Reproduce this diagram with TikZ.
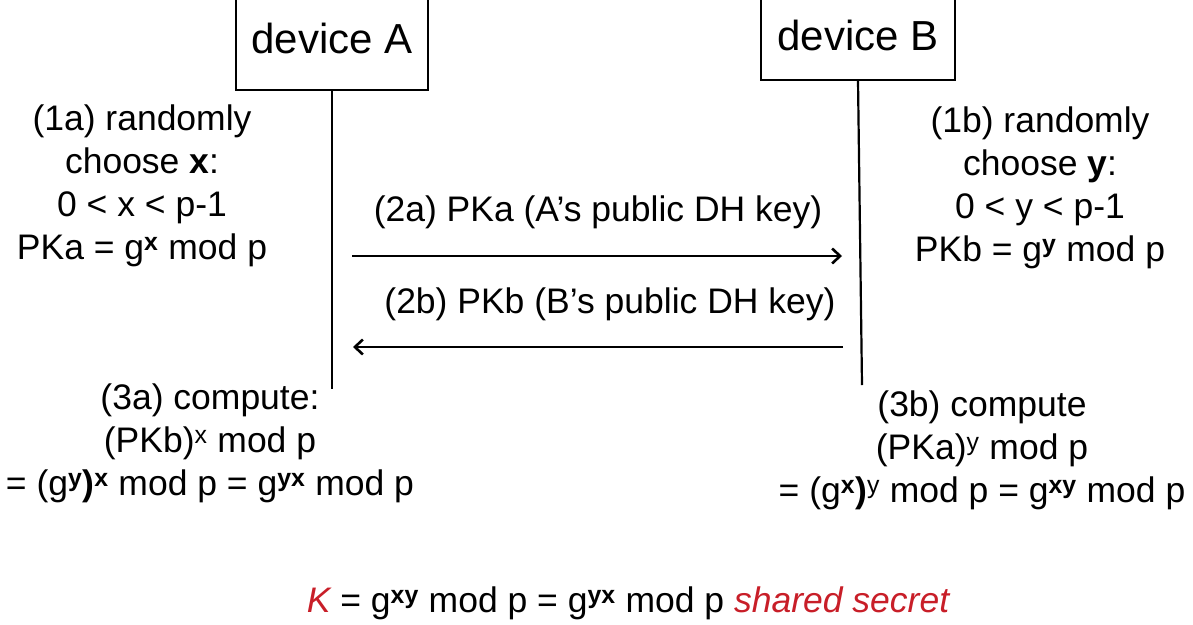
\documentclass[tikz,border=0pt]{standalone}
\usepackage{fontspec}
\setmainfont{Liberation Sans}
\usetikzlibrary{arrows.meta, positioning}
\definecolor{keyred}{RGB}{200,30,40}
\newcommand{\pwr}[1]{\textsuperscript{#1}}
\newcommand{\pwrb}[1]{\textsuperscript{\textbf{#1}}}

\begin{document}
\begin{tikzpicture}[
  x=1pt, y=-1pt,
  device/.style={rectangle, draw, line width=1.2pt, inner sep=0pt,
                 font=\fontsize{42}{48}\selectfont},
  note/.style={align=center, inner sep=0pt,
               font=\fontsize{35.5}{43}\selectfont},
  life/.style={line width=2.2pt},
  msg/.style={->, line width=2.2pt},
  >={Straight Barb[length=8pt,width=15pt,line width=2.6pt]}
]
\useasboundingbox (0,0) rectangle (1193,624);
% the two parties, boxes open at the top edge
\node[device, minimum width=192pt, minimum height=104pt] (devA) at (332,38) {device A};
\node[device, minimum width=194pt, minimum height=90pt] (devB) at (858,35) {device B};
\coordinate (endA) at (332,389);
\coordinate (endB) at (862,385);
\draw[life] (devA.south) -- (endA);
\draw[life] (devB.south) -- (endB);
% steps
\node[note] (s1a) at (142,186) {(1a) randomly\\choose \textbf{x}:\\0 < x < p-1\\PKa = g\pwrb{x} mod p};
\node[note] (s1b) at (1040,188) {(1b) randomly\\choose \textbf{y}:\\0 < y < p-1\\PKb = g\pwrb{y} mod p};
\node[note] (s3a) at (210,443) {(3a) compute:\\(PKb)\pwr{x} mod p\\= (g\pwrb{y}\textbf{)}\pwrb{x} mod p = g\pwrb{yx} mod p};
\node[note] (s3b) at (982,450) {(3b) compute\\(PKa)\pwr{y} mod p\\= (g\pwrb{x}\textbf{)}\pwr{y} mod p = g\pwrb{xy} mod p};
% messages
\coordinate (m2aS) at (352,256);
\coordinate (m2aE) at (842,256);
\coordinate (m2bS) at (843,347);
\coordinate (m2bE) at (353,347);
\draw[msg] (m2aS) -- (m2aE);
\draw[msg] (m2bS) -- (m2bE);
\node[note] (l2a) at (598,212) {(2a) PKa (A’s public DH key)};
\node[note] (l2b) at (610,304) {(2b) PKb (B’s public DH key)};
% result
\node[note] (key) at (628,603) {{\color{keyred}\itshape K} = g\pwrb{xy} mod p = g\pwrb{yx} mod p {\color{keyred}\itshape shared secret}};
\end{tikzpicture}
\end{document}
